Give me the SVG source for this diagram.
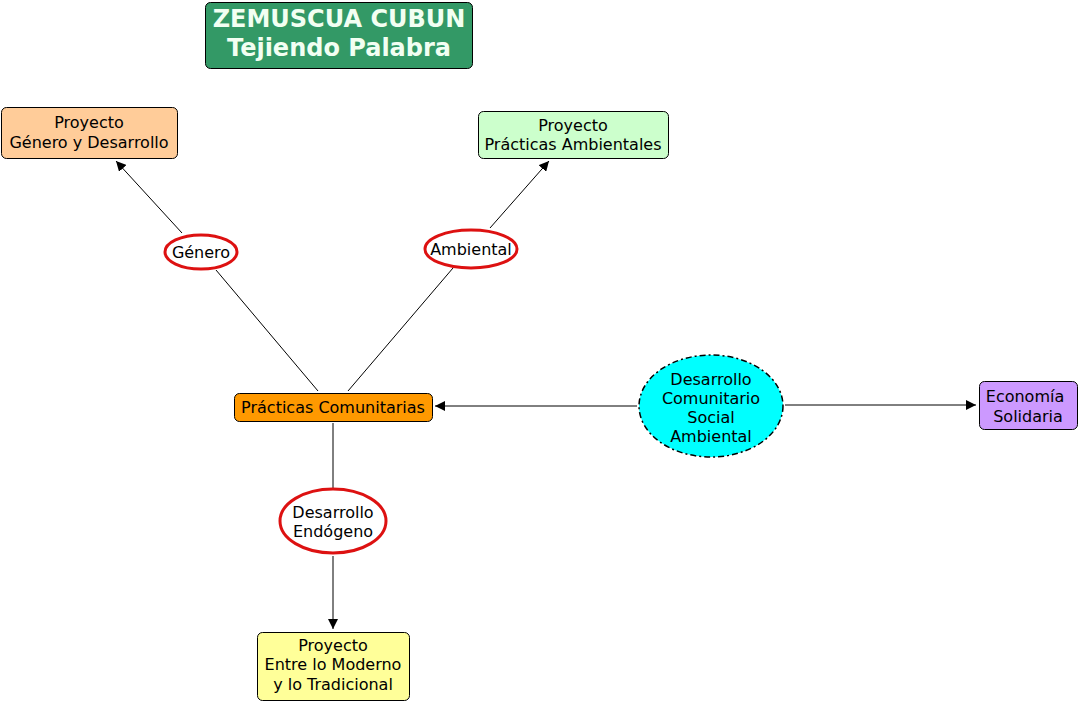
<svg xmlns="http://www.w3.org/2000/svg" width="1080" height="703" viewBox="0 0 1080 703">
<style>
text{font-family:"DejaVu Sans",Verdana,sans-serif;font-size:16px;fill:#000;text-anchor:middle}
.box{stroke:#000;stroke-width:1}
.lbl{fill:#fff;stroke:#dd1111;stroke-width:3}
.ln{stroke:#000;stroke-width:1;fill:none}
.t{font-size:24px;font-weight:bold;fill:#f2fff2}
</style>
<defs>
<marker id="ah" viewBox="0 0 10 10" refX="10" refY="5" markerWidth="10" markerHeight="10" markerUnits="userSpaceOnUse" orient="auto">
<path d="M0,0 L10,5 L0,10 z" fill="#000"/>
</marker>
</defs>
<rect width="1080" height="703" fill="#fff"/>
<g id="connectors">
<line class="ln" x1="182" y1="233" x2="116" y2="161" marker-end="url(#ah)"/>
<line class="ln" x1="216" y1="270" x2="318" y2="391"/>
<line class="ln" x1="348" y1="391" x2="453" y2="268"/>
<line class="ln" x1="490" y1="228" x2="549" y2="161" marker-end="url(#ah)"/>
<line class="ln" x1="637" y1="406" x2="435" y2="406" marker-end="url(#ah)"/>
<line class="ln" x1="785" y1="405" x2="976" y2="405" marker-end="url(#ah)"/>
<line class="ln" x1="333" y1="423" x2="333" y2="489"/>
<line class="ln" x1="333" y1="556" x2="333" y2="629" marker-end="url(#ah)"/>
</g>
<g id="title">
<rect class="box" x="205.5" y="2.5" width="267" height="66" rx="5" fill="#339966"/>
<text class="t" x="339" y="27">ZEMUSCUA CUBUN</text>
<text class="t" x="339" y="56">Tejiendo Palabra</text>
</g>
<g id="genero-desarrollo">
<rect class="box" x="1.5" y="107.5" width="176" height="51" rx="5" fill="#ffcc99"/>
<text x="89" y="128">Proyecto</text>
<text x="89" y="148">Género y Desarrollo</text>
</g>
<g id="practicas-ambientales">
<rect class="box" x="478.5" y="111.5" width="190" height="47" rx="5" fill="#ccffcc"/>
<text x="573" y="131">Proyecto</text>
<text x="573" y="150">Prácticas Ambientales</text>
</g>
<g id="genero">
<ellipse class="lbl" cx="201" cy="252" rx="36" ry="17"/>
<text x="201" y="258">Género</text>
</g>
<g id="ambiental">
<ellipse class="lbl" cx="471" cy="249" rx="46" ry="19"/>
<text x="471" y="255">Ambiental</text>
</g>
<g id="practicas-comunitarias">
<rect class="box" x="234.5" y="393.5" width="198" height="28" rx="5" fill="#ff9900"/>
<text x="333" y="413">Prácticas Comunitarias</text>
</g>
<g id="desarrollo-comunitario">
<ellipse cx="711" cy="406" rx="72" ry="51" fill="#00ffff" stroke="#000" stroke-width="1.5" stroke-dasharray="6,3,2,3"/>
<text x="711" y="385">Desarrollo</text>
<text x="711" y="404">Comunitario</text>
<text x="711" y="423">Social</text>
<text x="711" y="442">Ambiental</text>
</g>
<g id="economia-solidaria">
<rect class="box" x="979.5" y="381.5" width="98" height="48" rx="5" fill="#cc99ff"/>
<text x="1025" y="402">Economía</text>
<text x="1028" y="422">Solidaria</text>
</g>
<g id="desarrollo-endogeno">
<ellipse class="lbl" cx="333" cy="521" rx="53" ry="32"/>
<text x="333" y="518">Desarrollo</text>
<text x="333" y="537">Endógeno</text>
</g>
<g id="moderno-tradicional">
<rect class="box" x="257.5" y="632.5" width="152" height="68" rx="5" fill="#ffff99"/>
<text x="333" y="651">Proyecto</text>
<text x="333" y="670">Entre lo Moderno</text>
<text x="333" y="690">y lo Tradicional</text>
</g>
</svg>
